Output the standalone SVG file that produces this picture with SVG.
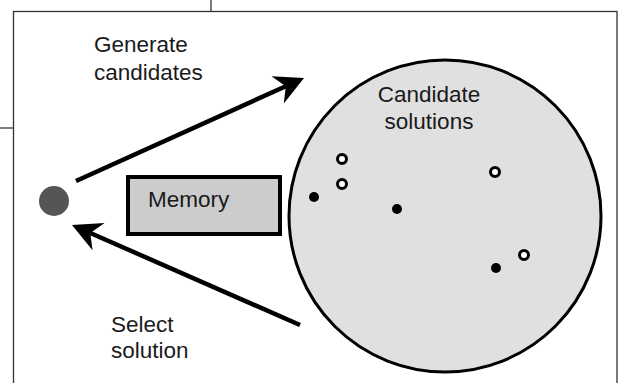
<svg xmlns="http://www.w3.org/2000/svg" width="622" height="383" viewBox="0 0 622 383">
<style>
.lbl{font-family:"Liberation Sans",Arial,sans-serif;font-size:22.5px;fill:#1a1a1a}
.frame{fill:none;stroke:#333;stroke-width:1.3}
.arrow{stroke:#000;stroke-width:4.5;fill:none}
.open{fill:#fff;stroke:#000;stroke-width:3}
.solid{fill:#000}
</style>
<defs>
<marker id="ah" markerUnits="userSpaceOnUse" refX="-20" refY="0" markerWidth="1" markerHeight="1" orient="auto" overflow="visible">
<path d="M0,0 L-29,-15 L-20,0 L-29,15 Z" fill="#000"/>
</marker>
</defs>
<rect id="white-bg" x="0" y="0" width="622" height="383" fill="#fff"/>
<g id="frame">
<rect class="frame" x="13.5" y="11.5" width="603.5" height="390"/>
<line class="frame" x1="211" y1="0" x2="211" y2="11.5"/>
<line class="frame" x1="0" y1="128" x2="13.5" y2="128"/>
</g>
<g id="candidates-pool">
<circle cx="445" cy="216" r="156" fill="#e0e0e0" stroke="#000" stroke-width="3"/>
<text class="lbl" x="429" y="102" text-anchor="middle">Candidate</text>
<text class="lbl" x="429" y="129" text-anchor="middle">solutions</text>
<circle class="open" cx="342" cy="159" r="4.5"/>
<circle class="open" cx="342" cy="184" r="4.5"/>
<circle class="open" cx="495" cy="172" r="4.5"/>
<circle class="open" cx="524" cy="255" r="4.5"/>
<circle class="solid" cx="314" cy="197" r="5"/>
<circle class="solid" cx="397" cy="209" r="5"/>
<circle class="solid" cx="496" cy="268" r="5"/>
</g>
<g id="agent">
<circle cx="54" cy="201" r="15" fill="#555"/>
</g>
<g id="memory">
<rect x="128" y="177" width="152" height="57" fill="#cccccc" stroke="#000" stroke-width="4"/>
<text class="lbl" x="148" y="207">Memory</text>
</g>
<g id="labels">
<text class="lbl" x="94" y="52">Generate</text>
<text class="lbl" x="94" y="80">candidates</text>
<text class="lbl" x="111" y="332">Select</text>
<text class="lbl" x="111" y="358">solution</text>
</g>
<g id="connectors">
<line class="arrow" x1="76" y1="181" x2="285.8" y2="86.2" marker-end="url(#ah)"/>
<line class="arrow" x1="300" y1="325" x2="90.3" y2="233" marker-end="url(#ah)"/>
</g>
</svg>
